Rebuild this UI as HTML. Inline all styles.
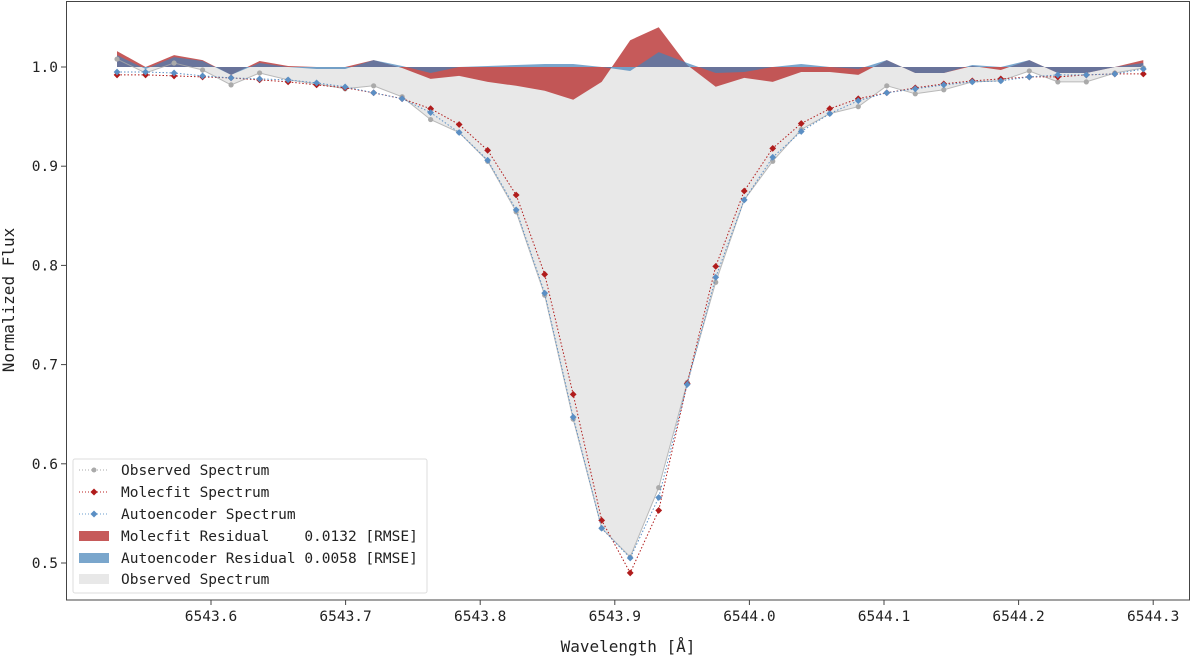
<!DOCTYPE html>
<html><head><meta charset="utf-8">
<style>
html,body{margin:0;padding:0;background:#fff;}
svg{display:block;font-family:"DejaVu Sans Mono","Liberation Mono",monospace;}
</style></head>
<body>
<svg id="chart" width="1200" height="657" viewBox="0 0 1200 657" xmlns="http://www.w3.org/2000/svg">
<g id="plot"></g>
<rect x="66.5" y="1.5" width="1123" height="598.5" fill="none" stroke="#444" stroke-width="1"/>
<g id="axes"></g>
<text x="628" y="652" font-size="16" text-anchor="middle" fill="#222">Wavelength [Å]</text>
<text transform="translate(14,300) rotate(-90)" font-size="16" text-anchor="middle" fill="#222">Normalized Flux</text>
<g>
<rect x="73" y="459" width="354" height="134" rx="2" fill="#fff" fill-opacity="0.85" stroke="#ddd"/>
<g><line x1="79" y1="470" x2="109" y2="470" stroke="#aaa" stroke-dasharray="1,2"/><circle cx="94" cy="470" r="2.5" fill="#aaa"/><text x="121" y="475" font-size="14.5" fill="#222">Observed Spectrum</text></g>
<g><line x1="79" y1="492" x2="109" y2="492" stroke="#b22" stroke-dasharray="1,2"/><rect x="91.5" y="489.5" width="5" height="5" transform="rotate(45 94 492)" fill="#b01c1c"/><text x="121" y="497" font-size="14.5" fill="#222">Molecfit Spectrum</text></g>
<g><line x1="79" y1="514" x2="109" y2="514" stroke="#6a9ccc" stroke-dasharray="1,2"/><rect x="91.5" y="511.5" width="5" height="5" transform="rotate(45 94 514)" fill="#5b8fc4"/><text x="121" y="519" font-size="14.5" fill="#222">Autoencoder Spectrum</text></g>
<g><rect x="79" y="531" width="30" height="10" fill="#c65a5a"/><text x="121" y="541" font-size="14.5" fill="#222" xml:space="preserve">Molecfit Residual    0.0132 [RMSE]</text></g>
<g><rect x="79" y="553" width="30" height="10" fill="#7aa6cc"/><text x="121" y="563" font-size="14.5" fill="#222">Autoencoder Residual 0.0058 [RMSE]</text></g>
<g><rect x="79" y="574" width="30" height="10" fill="#e8e8e8"/><text x="121" y="584" font-size="14.5" fill="#222">Observed Spectrum</text></g>
</g>
</svg>
<script>
const wlStart = 6543.5302;
const wlStep = 0.02118;
const observed = [1.008,0.994,1.004,0.997,0.982,0.994,0.987,0.983,0.978,0.981,0.970,0.947,0.934,0.905,0.854,0.770,0.645,0.535,0.506,0.576,0.682,0.783,0.866,0.905,0.937,0.953,0.960,0.981,0.973,0.977,0.985,0.986,0.996,0.985,0.985,0.994,0.999];
const molecfit = [0.992,0.992,0.991,0.990,0.989,0.987,0.985,0.982,0.979,0.974,0.968,0.958,0.942,0.916,0.871,0.791,0.670,0.543,0.490,0.553,0.681,0.799,0.875,0.918,0.943,0.958,0.968,0.974,0.979,0.983,0.986,0.988,0.990,0.990,0.992,0.993,0.993];
const autoenc = [0.995,0.995,0.994,0.991,0.989,0.988,0.987,0.984,0.980,0.974,0.968,0.954,0.934,0.906,0.856,0.772,0.647,0.535,0.505,0.566,0.680,0.788,0.866,0.909,0.935,0.953,0.966,0.974,0.978,0.982,0.985,0.986,0.990,0.992,0.992,0.993,0.998];
const molResid = [1.016,1.000,1.012,1.007,0.992,1.006,1.001,1.000,1.000,1.007,0.999,0.988,0.991,0.985,0.981,0.976,0.967,0.985,1.027,1.040,1.002,0.980,0.989,0.985,0.995,0.995,0.992,1.007,0.994,0.994,1.001,0.997,1.007,0.994,0.994,1.000,1.007];
const aeResid = [1.012,0.998,1.010,1.006,0.992,1.004,1.000,0.998,0.998,1.007,1.001,0.994,1.000,1.001,1.002,1.003,1.003,1.000,0.996,1.015,1.004,0.994,0.995,1.000,1.003,1.000,0.998,1.007,0.994,0.994,1.002,1.000,1.007,0.994,0.994,1.000,1.004];
const xTicks = [6543.6,6543.7,6543.8,6543.9,6544.0,6544.1,6544.2,6544.3];
const yTicks = [0.5,0.6,0.7,0.8,0.9,1.0];

const NS='http://www.w3.org/2000/svg';
function xs(w){return 211 + (w-6543.6)*1346;}
function ys(v){return 67 + (1-v)*992;}
function wl(i){return wlStart + i*wlStep;}
const plot=document.getElementById('plot');
const axes=document.getElementById('axes');
function mk(tag,attrs,parent){const e=document.createElementNS(NS,tag);for(const k in attrs)e.setAttribute(k,attrs[k]);parent.appendChild(e);return e;}
function areaPath(arr){let d='M'+xs(wl(0))+','+ys(1);arr.forEach((v,i)=>{d+=' L'+xs(wl(i)).toFixed(1)+','+ys(v).toFixed(1);});d+=' L'+xs(wl(arr.length-1))+','+ys(1)+' Z';return d;}
function linePath(arr){return arr.map((v,i)=>(i?'L':'M')+xs(wl(i)).toFixed(1)+','+ys(v).toFixed(1)).join(' ');}

let p=mk('path',{d:areaPath(observed),fill:'#e8e8e8'},plot);


p=mk('path',{d:areaPath(molResid),fill:'rgb(184,49,49)','fill-opacity':'0.8'},plot);


p=mk('path',{d:areaPath(aeResid),fill:'rgb(65,128,184)','fill-opacity':'0.7'},plot);



function series(arr,color,name,shape){
  const g=mk('g',{},plot);
  
  
  mk('path',{d:linePath(arr),fill:'none',stroke:color,'stroke-width':'1','stroke-dasharray':shape==='c'?'none':'1.5,2','stroke-opacity':shape==='c'?'0.8':'1'},g);
  arr.forEach((v,i)=>{
    const x=xs(wl(i)),y=ys(v);
    let m;
    if(shape==='c'){m=mk('circle',{cx:x,cy:y,r:2.6,fill:color},g);}
    else{m=mk('rect',{x:x-2.4,y:y-2.4,width:4.8,height:4.8,fill:color,transform:'rotate(45 '+x+' '+y+')'},g);}
    
    
  });
}
series(observed,'#aaaaaa','observed-line','c');
series(molecfit,'#b01c1c','molecfit-line','d');
series(autoenc,'#5b8fc4','autoencoder-line','d');

xTicks.forEach(t=>{
  const x=xs(t);
  let l=mk('line',{x1:x,y1:600,x2:x,y2:605,stroke:'#444'},axes);
  
  
  let tx=mk('text',{x:x,y:621,'font-size':'14.5','text-anchor':'middle',fill:'#222'},axes);
  tx.textContent=t.toFixed(1);
  
  
});
yTicks.forEach(t=>{
  const y=ys(t);
  let l=mk('line',{x1:61,y1:y,x2:66,y2:y,stroke:'#444'},axes);
  
  
  let tx=mk('text',{x:58,y:y+5,'font-size':'14.5','text-anchor':'end',fill:'#222'},axes);
  tx.textContent=t.toFixed(1);
  
  
});
</script>
</body></html>
